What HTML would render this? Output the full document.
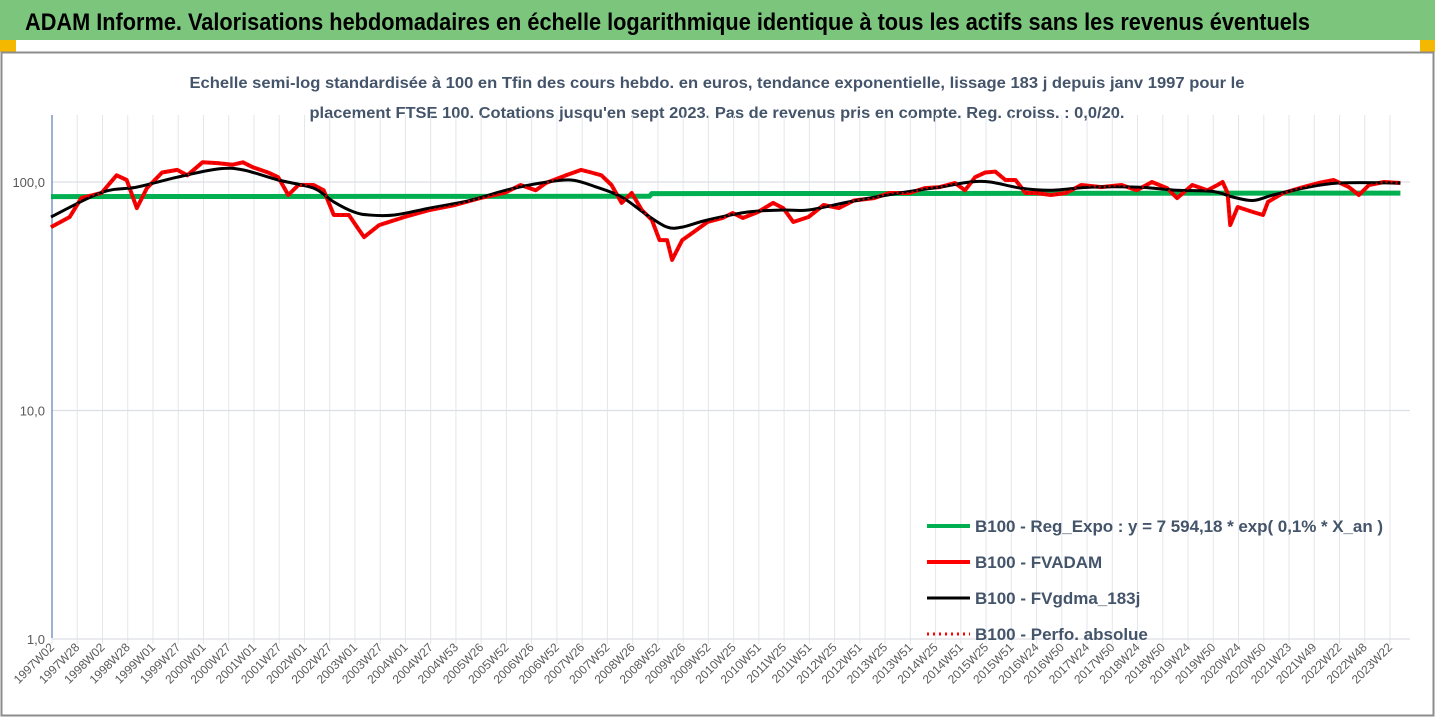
<!DOCTYPE html>
<html><head><meta charset="utf-8"><style>
html,body{margin:0;padding:0;background:#fff;width:1435px;height:718px;overflow:hidden}
svg{display:block;font-family:"Liberation Sans",sans-serif}
</style></head><body>
<svg id="chart" width="1435" height="718" viewBox="0 0 1435 718" xmlns="http://www.w3.org/2000/svg">
<rect x="0" y="0" width="1435" height="718" fill="#fff"/>
<rect x="0" y="0" width="1435" height="40" fill="#7cc57d"/>
<text x="25" y="30" font-size="24" font-weight="bold" fill="#000" textLength="1285" lengthAdjust="spacingAndGlyphs">ADAM Informe. Valorisations hebdomadaires en échelle logarithmique identique à tous les actifs sans les revenus éventuels</text>
<rect x="0" y="40" width="16" height="12" fill="#f5b800"/>
<rect x="1420" y="40" width="15" height="12" fill="#f5b800"/>
<rect x="1.5" y="52.5" width="1432" height="663" fill="none" stroke="#8c8c8c" stroke-width="2"/>
<text x="717" y="88" text-anchor="middle" font-size="16" font-weight="bold" fill="#44546a" textLength="1055" lengthAdjust="spacingAndGlyphs">Echelle semi-log standardisée à 100 en Tfin des cours hebdo. en euros, tendance exponentielle, lissage 183 j depuis janv 1997 pour le</text>
<text x="717" y="118" text-anchor="middle" font-size="16" font-weight="bold" fill="#44546a" textLength="815" lengthAdjust="spacingAndGlyphs">placement FTSE 100. Cotations jusqu'en sept 2023. Pas de revenus pris en compte. Reg. croiss. : 0,0/20.</text>
<g id="grid"></g>
<g id="axes"></g>
<g id="series"></g>
<g id="legend"></g>
</svg>
<script>
var xLabels = ["1997W02","1997W28","1998W02","1998W28","1999W01","1999W27","2000W01","2000W27","2001W01","2001W27","2002W01","2002W27","2003W01","2003W27","2004W01","2004W27","2004W53","2005W26","2005W52","2006W26","2006W52","2007W26","2007W52","2008W26","2008W52","2009W26","2009W52","2010W25","2010W51","2011W25","2011W51","2012W25","2012W51","2013W25","2013W51","2014W25","2014W51","2015W25","2015W51","2016W24","2016W50","2017W24","2017W50","2018W24","2018W50","2019W24","2019W50","2020W24","2020W50","2021W23","2021W49","2022W22","2022W48","2023W22"];
var yTicks = [1, 10, 100];
var yTickLabels = ["1,0","10,0","100,0"];
var redT = [1997.0,1997.37,1997.6,1998.0,1998.3,1998.5,1998.7,1998.9,1999.2,1999.5,1999.7,2000.0,2000.3,2000.6,2000.8,2001.0,2001.3,2001.5,2001.7,2001.9,2002.2,2002.4,2002.6,2002.9,2003.1,2003.2,2003.5,2004.0,2004.5,2005.0,2005.5,2006.0,2006.3,2006.6,2006.8,2007.2,2007.5,2007.7,2007.9,2008.1,2008.3,2008.5,2008.7,2008.9,2009.05,2009.2,2009.3,2009.5,2009.7,2010.0,2010.3,2010.5,2010.7,2011.0,2011.3,2011.5,2011.7,2012.0,2012.3,2012.6,2012.9,2013.3,2013.6,2014.0,2014.3,2014.6,2014.9,2015.1,2015.3,2015.5,2015.7,2015.9,2016.1,2016.3,2016.5,2016.8,2017.1,2017.4,2017.8,2018.2,2018.5,2018.8,2019.1,2019.3,2019.6,2019.9,2020.1,2020.2,2020.3,2020.35,2020.5,2020.8,2021.0,2021.1,2021.4,2021.8,2022.1,2022.4,2022.7,2022.9,2023.1,2023.4,2023.72];
var redV = [63.5,70.3,85,89.5,107,102,76.9,94,110,113,107,122,121,119,122,116,110,105,87.7,97,97,92,71.7,71.7,61.7,57.4,64.8,70.3,75.4,79.3,85,90,97,92,99,107,113,110,107,97,81,89.5,75.4,68.2,55.7,55.7,45.6,55.7,59.8,66.8,69.6,73.2,69.6,73.9,81,76.9,66.8,70.3,79.3,76.9,83,85,89.5,89.5,94,95,99,92,105,110,111,102,102,89.5,89.5,87.7,89.5,97,95,97,92,100,94,85,97,92,97,100,89.5,64.8,77.7,73.9,71.7,81.8,89.5,95,99,102,95,87.7,97,100,99];
var blackT = [1997.0,1998.0,1998.7,1999.5,2000.3,2000.8,2001.5,2002.2,2002.6,2003.0,2003.3,2003.8,2004.5,2005.3,2006.0,2006.7,2007.3,2007.8,2008.3,2008.8,2009.2,2009.5,2010.0,2010.8,2011.5,2012.0,2012.8,2013.8,2014.6,2015.2,2015.6,2016.2,2016.8,2017.6,2018.5,2019.3,2020.0,2020.4,2020.8,2021.2,2021.8,2022.5,2023.72];
var blackV = [70.3,90,95,105,114,113,102,94,81.8,73.9,71.7,71.7,76.9,83,92,99,102,95,86,71.7,63.5,63.5,68.2,73.9,75.4,75.4,81.8,89.5,95,100,100,94,92,95,95,92,91,86,83,87.7,94,99,99];
var greenT = [1997.0,2008.85,2008.9,2023.72];
var greenV = [86.3,86.6,89.0,89.4];
var legendLabels = ["B100 - Reg_Expo : y = 7 594,18 * exp( 0,1% *  X_an )","B100 - FVADAM","B100 - FVgdma_183j","B100 - Perfo. absolue"];

var NS="http://www.w3.org/2000/svg";
var X0=52, T0=1997.02, PXY=50.5, Y100=182, DEC=228.5, YTOP=115, YBOT=638;
function xT(t){return X0+(t-T0)*PXY;}
function yV(v){return Y100-(Math.log10(v)-2)*DEC;}
function mk(tag,attrs,parent){var e=document.createElementNS(NS,tag);for(var k in attrs)e.setAttribute(k,attrs[k]);parent.appendChild(e);return e;}
var grid=document.getElementById('grid'), axes=document.getElementById('axes'), ser=document.getElementById('series'), leg=document.getElementById('legend');
var step=(1390-X0)/(xLabels.length-1);
for(var i=0;i<xLabels.length;i++){
  var gx=X0+i*step;
  var gl=mk('line',{x1:gx,x2:gx,y1:YTOP,y2:YBOT+6,stroke:'#e3e6ec','stroke-width':1},grid);
  
  
  var tx=mk('text',{transform:'translate('+(gx+3)+','+(YBOT+10)+') rotate(-45)','text-anchor':'end','font-size':12,fill:'#595959'},axes);
  tx.textContent=xLabels[i];
  
  
}
for(var j=0;j<yTicks.length;j++){
  var yy=yV(yTicks[j]);
  var hl=mk('line',{x1:X0,x2:1410,y1:yy,y2:yy,stroke:'#dcdfe4','stroke-width':1.2},grid);
  
  
  var yt=mk('text',{x:45,y:yy+5,'text-anchor':'end','font-size':13,fill:'#595959'},axes);
  yt.textContent=yTickLabels[j];
  
  
}
var ax=mk('line',{x1:X0,x2:X0,y1:YTOP,y2:YBOT,stroke:'#5b7fb8','stroke-width':1.2},axes);



function linePath(T,V){var n=Math.min(T.length,V.length),d='';for(var i=0;i<n;i++)d+=(i?'L':'M')+xT(T[i]).toFixed(1)+','+yV(V[i]).toFixed(1);return d;}
function smoothPath(T,V){var n=Math.min(T.length,V.length),P=[];for(var i=0;i<n;i++)P.push([xT(T[i]),yV(V[i])]);
  var d='M'+P[0][0].toFixed(1)+','+P[0][1].toFixed(1);
  for(var i=0;i<n-1;i++){var p0=P[Math.max(0,i-1)],p1=P[i],p2=P[i+1],p3=P[Math.min(n-1,i+2)];
    var c1=[p1[0]+(p2[0]-p0[0])/6,p1[1]+(p2[1]-p0[1])/6],c2=[p2[0]-(p3[0]-p1[0])/6,p2[1]-(p3[1]-p1[1])/6];
    d+='C'+c1[0].toFixed(1)+','+c1[1].toFixed(1)+' '+c2[0].toFixed(1)+','+c2[1].toFixed(1)+' '+p2[0].toFixed(1)+','+p2[1].toFixed(1);}
  return d;}
var g=mk('path',{d:linePath(greenT,greenV),fill:'none',stroke:'#00b050','stroke-width':5},ser);


var r=mk('path',{d:linePath(redT,redV),fill:'none',stroke:'#ff0000','stroke-width':4,'stroke-linejoin':'round'},ser);


var b=mk('path',{d:smoothPath(blackT,blackV),fill:'none',stroke:'#000','stroke-width':3},ser);


var rd=mk('path',{d:linePath(redT,redV),fill:'none',stroke:'#d00000','stroke-width':2,'stroke-dasharray':'2,3'},ser);



var legStyles=[{c:'#00b050',w:4,da:''},{c:'#ff0000',w:4,da:''},{c:'#000',w:3,da:''},{c:'#ff0000',w:3,da:'2,4'}];
var legY=[526,562,598,634];
var legW=[408,0,0,0];
for(var k=0;k<legendLabels.length;k++){
  var ls=mk('line',{x1:927,x2:970,y1:legY[k],y2:legY[k],stroke:legStyles[k].c,'stroke-width':legStyles[k].w},leg);
  if(legStyles[k].da)ls.setAttribute('stroke-dasharray',legStyles[k].da);
  
  
  var lt=mk('text',{x:975,y:legY[k]+6,'font-size':17,'font-weight':'bold',fill:'#44546a'},leg);
  lt.textContent=legendLabels[k];
  if(legW[k])lt.setAttribute('textLength',legW[k]);
  
  
}
</script>
</body></html>
